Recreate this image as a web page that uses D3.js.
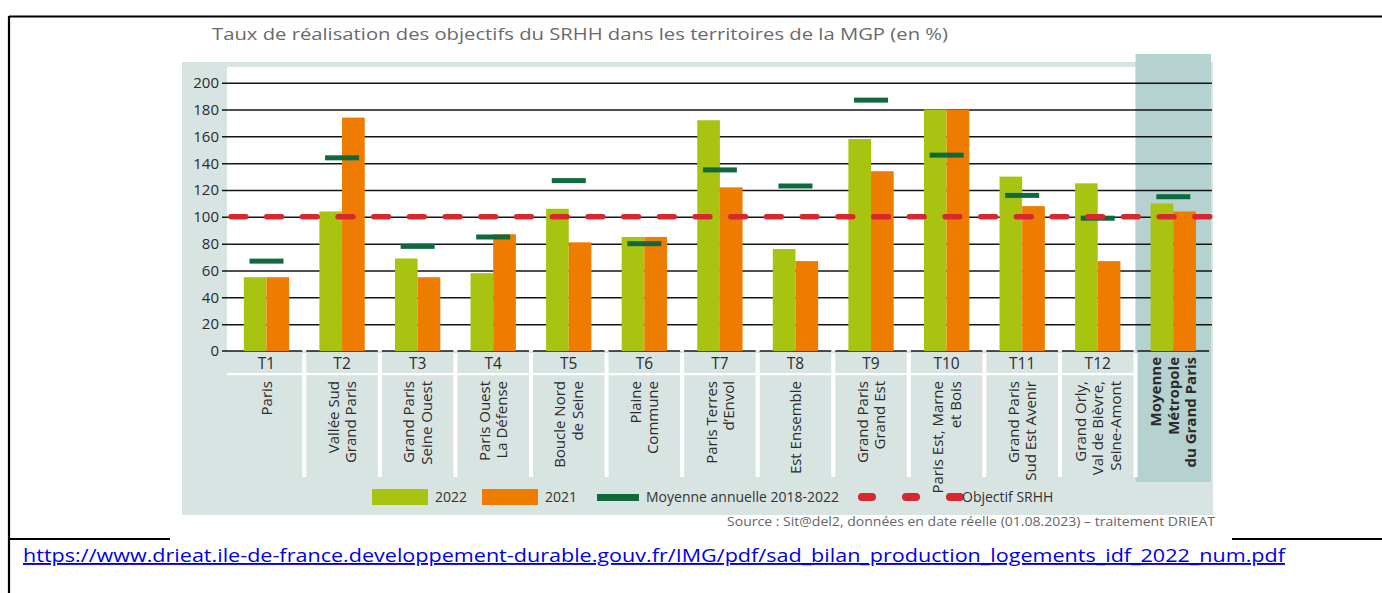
<!DOCTYPE html>
<html>
<head>
<meta charset="utf-8">
<script src="https://cdn.jsdelivr.net/npm/d3@7/dist/d3.min.js"></script>
<style>
  body { margin: 0; background: #fff; }
  text { font-family: "Open Sans", sans-serif; }
</style>
</head>
<body>
<script>
// size of the page
var w = 1382;
var h = 593;

// chart data
var codes = ["T1", "T2", "T3", "T4", "T5", "T6", "T7", "T8", "T9", "T10", "T11", "T12", "MGP"];
var names = [
  ["Paris"],
  ["Vallée Sud", "Grand Paris"],
  ["Grand Paris", "Seine Ouest"],
  ["Paris Ouest", "La Défense"],
  ["Boucle Nord", "de Seine"],
  ["Plaine", "Commune"],
  ["Paris Terres", "d’Envol"],
  ["Est Ensemble"],
  ["Grand Paris", "Grand Est"],
  ["Paris Est, Marne", "et Bois"],
  ["Grand Paris", "Sud Est Avenir"],
  ["Grand Orly,", "Val de Bièvre,", "Seine-Amont"],
  ["Moyenne", "Métropole", "du Grand Paris"]
];
var val2022 = [55, 104, 69, 58, 106, 85, 172, 76, 158, 180, 130, 125, 110];
var val2021 = [55, 174, 55, 87, 81, 85, 122, 67, 134, 180, 108, 67, 104];
var moyenne = [67, 144, 78, 85, 127, 80, 135, 123, 187, 146, 116, 99, 115];
var objectif = 100;
var yTicks = [0, 20, 40, 60, 80, 100, 120, 140, 160, 180, 200];
var series = ["2022", "2021"];
var seriesValues = [val2022, val2021];
var seriesColors = ["#a8c410", "#ee7c00"];

var titleText = "Taux de réalisation des objectifs du SRHH dans les territoires de la MGP (en %)";
var sourceText = "Source : Sit@del2, données en date réelle (01.08.2023) – traitement DRIEAT";
var urlText = "https://www.drieat.ile-de-france.developpement-durable.gouv.fr/IMG/pdf/sad_bilan_production_logements_idf_2022_num.pdf";

var svg = d3.select("body")
  .append("svg")
  .attr("width", w)
  .attr("height", h);

// outer frame of the document
svg.append("line").attr("x1", 9).attr("y1", 16.5).attr("x2", w).attr("y2", 16.5)
  .attr("stroke", "#000").attr("stroke-width", 2.2);
svg.append("line").attr("x1", 9).attr("y1", 16).attr("x2", 9).attr("y2", h)
  .attr("stroke", "#000").attr("stroke-width", 2.2);
svg.append("line").attr("x1", 9).attr("y1", 539).attr("x2", 170).attr("y2", 539)
  .attr("stroke", "#000").attr("stroke-width", 2);
svg.append("line").attr("x1", 1232).attr("y1", 539).attr("x2", w).attr("y2", 539)
  .attr("stroke", "#000").attr("stroke-width", 2);

// scales
var x = d3.scaleBand().domain(codes).range([228.7, 1211.1]);
var step = x.step();
var xs = d3.scaleBand().domain(series).range([0, x.bandwidth() * 0.6]);
var barOffset = x.bandwidth() * 0.2;
var y = d3.scaleLinear().domain([0, 200]).range([351, 82.7]);

// panel backgrounds
svg.append("rect").attr("x", 182).attr("y", 62).attr("width", 1031).attr("height", 453)
  .attr("fill", "#d8e4e2");
svg.append("rect").attr("x", 227).attr("y", 67).attr("width", x("MGP") - 227).attr("height", y(0) - 67)
  .attr("fill", "#fff");
svg.append("rect").attr("x", x("MGP")).attr("y", 54).attr("width", step).attr("height", 428)
  .attr("fill", "#b5d2d1");

// title
svg.append("text")
  .attr("x", 212).attr("y", 40)
  .attr("textLength", 736).attr("lengthAdjust", "spacingAndGlyphs")
  .attr("font-size", 17).attr("fill", "#6a6a6a")
  .text(titleText);

// y axis with gridlines
var yAxis = d3.axisLeft(y).tickValues(yTicks).tickSize(-990).tickPadding(3);
var gy = svg.append("g").attr("transform", "translate(222,0)").call(yAxis);
gy.select(".domain").remove();
gy.selectAll(".tick line").attr("stroke", "#151515").attr("stroke-width", 1.5);
gy.selectAll(".tick").filter(function(d) { return d === 0; }).select("line").remove();
gy.selectAll(".tick text").attr("font-size", 15).attr("fill", "#2b2b2b")
  .style("font-family", "'Open Sans', sans-serif");

// zero line, one segment per category
svg.selectAll(".zero")
  .data(codes)
  .enter()
  .append("line")
  .attr("x1", function(d, i) { return i === 0 ? 222 : x(d) + 2; })
  .attr("x2", function(d) { return x(d) + step - 2; })
  .attr("y1", y(0)).attr("y2", y(0))
  .attr("stroke", "#151515").attr("stroke-width", 1.6);

// bars
series.forEach(function(s, k) {
  svg.selectAll(".bar" + s)
    .data(codes)
    .enter()
    .append("rect")
    .attr("x", function(d) { return x(d) + barOffset + xs(s); })
    .attr("width", xs.bandwidth())
    .attr("y", function(d, i) { return y(seriesValues[k][i]); })
    .attr("height", function(d, i) { return y(0) - y(seriesValues[k][i]); })
    .attr("fill", seriesColors[k]);
});

// moyenne annuelle markers
svg.selectAll(".moy")
  .data(codes)
  .enter()
  .append("rect")
  .attr("x", function(d) { return x(d) + step / 2 - 17; })
  .attr("width", 34)
  .attr("y", function(d, i) { return y(moyenne[i]) - 2.5; })
  .attr("height", 5)
  .attr("fill", "#0e6a3d");

// objectif SRHH
svg.append("line")
  .attr("x1", 231).attr("x2", 1210)
  .attr("y1", y(objectif)).attr("y2", y(objectif))
  .attr("stroke", "#d7272f").attr("stroke-width", 5.5)
  .attr("stroke-linecap", "round")
  .attr("stroke-dasharray", "14.8 20.9");

// label cells: white separators
svg.selectAll(".sep")
  .data(codes.slice(0, codes.length - 1))
  .enter()
  .append("rect")
  .attr("x", function(d) { return x(d) + step - 2; })
  .attr("width", 4)
  .attr("y", y(0) + 2)
  .attr("height", 124)
  .attr("fill", "#fff");
svg.append("rect").attr("x", 227).attr("y", 373).attr("width", x("MGP") - 229).attr("height", 2.2)
  .attr("fill", "#fff");

// T codes
svg.selectAll(".code")
  .data(codes.slice(0, 12))
  .enter()
  .append("text")
  .attr("x", function(d) { return x(d) + step / 2; })
  .attr("y", 369)
  .attr("text-anchor", "middle")
  .attr("font-size", 15.5)
  .attr("fill", "#2b2b2b")
  .text(function(d) { return d; });

// territory names, rotated
codes.forEach(function(c, i) {
  var lines = names[i];
  var top = c === "MGP" ? 357 : 381;
  lines.forEach(function(line, j) {
    var cx = x(c) + step / 2 + (j - (lines.length - 1) / 2) * 17.5;
    svg.append("text")
      .attr("transform", "translate(" + cx + "," + top + ") rotate(-90)")
      .attr("dy", "0.36em")
      .attr("text-anchor", "end")
      .attr("font-size", 15)
      .attr("font-weight", c === "MGP" ? "bold" : "normal")
      .attr("fill", "#2b2b2b")
      .text(line);
  });
});

// legend
var lg = svg.append("g").attr("font-size", 14).attr("fill", "#333");
lg.append("rect").attr("x", 372).attr("y", 489).attr("width", 56).attr("height", 16).attr("fill", seriesColors[0]);
lg.append("text").attr("x", 435).attr("y", 502).text(series[0]);
lg.append("rect").attr("x", 482).attr("y", 489).attr("width", 56).attr("height", 16).attr("fill", seriesColors[1]);
lg.append("text").attr("x", 545).attr("y", 502).text(series[1]);
lg.append("rect").attr("x", 597).attr("y", 494).attr("width", 42).attr("height", 7).attr("fill", "#0e6a3d");
lg.append("text").attr("x", 646).attr("y", 502).text("Moyenne annuelle 2018-2022");
lg.selectAll(".obj")
  .data([0, 1, 2])
  .enter()
  .append("line")
  .attr("x1", function(d) { return 862 + d * 44; })
  .attr("x2", function(d) { return 872 + d * 44; })
  .attr("y1", 497).attr("y2", 497)
  .attr("stroke", "#d7272f").attr("stroke-width", 8).attr("stroke-linecap", "round");
lg.append("text").attr("x", 962).attr("y", 502).text("Objectif SRHH");

// source
svg.append("text")
  .attr("x", 1215).attr("y", 526)
  .attr("text-anchor", "end")
  .attr("textLength", 488).attr("lengthAdjust", "spacingAndGlyphs")
  .attr("font-size", 13).attr("fill", "#666")
  .text(sourceText);

// link under the picture
svg.append("text")
  .attr("x", 23).attr("y", 562)
  .attr("textLength", 1262).attr("lengthAdjust", "spacingAndGlyphs")
  .attr("font-size", 19).attr("fill", "#0000ee")
  .attr("text-decoration", "underline")
  .text(urlText);
</script>
</body>
</html>
